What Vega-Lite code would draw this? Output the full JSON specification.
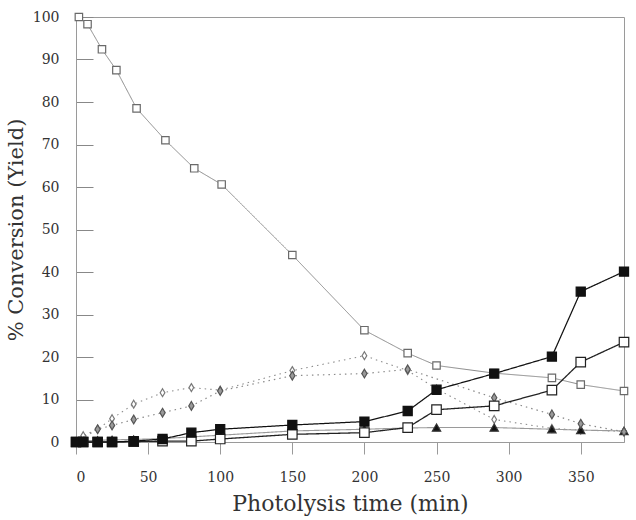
{
  "$schema": "https://vega.github.io/schema/vega-lite/v6.json",
  "width": 548,
  "height": 425,
  "padding": {"left": 5, "top": 10, "right": 5, "bottom": 2},
  "config": {
    "font": "DejaVu Serif",
    "view": {"stroke": "#9a9a9a"}
  },
  "data": {
    "values": [
      {"series": "9", "t": 2, "y": 100},
      {"series": "9", "t": 8, "y": 98.3},
      {"series": "9", "t": 18, "y": 92.4},
      {"series": "9", "t": 28, "y": 87.5},
      {"series": "9", "t": 42, "y": 78.5},
      {"series": "9", "t": 62, "y": 71.0},
      {"series": "9", "t": 82, "y": 64.4},
      {"series": "9", "t": 101, "y": 60.6},
      {"series": "9", "t": 150, "y": 44.0},
      {"series": "9", "t": 200, "y": 26.3},
      {"series": "9", "t": 230, "y": 20.9},
      {"series": "9", "t": 250, "y": 18.0},
      {"series": "9", "t": 290, "y": 16.2},
      {"series": "9", "t": 330, "y": 15.1},
      {"series": "9", "t": 350, "y": 13.5},
      {"series": "9", "t": 380, "y": 12.0},
      {"series": "10", "t": 0, "y": 0},
      {"series": "10", "t": 5, "y": 1.5},
      {"series": "10", "t": 15, "y": 3.0},
      {"series": "10", "t": 25, "y": 5.5},
      {"series": "10", "t": 40, "y": 8.9},
      {"series": "10", "t": 60, "y": 11.6},
      {"series": "10", "t": 80, "y": 12.8},
      {"series": "10", "t": 100, "y": 12.2},
      {"series": "10", "t": 150, "y": 16.8},
      {"series": "10", "t": 200, "y": 20.3},
      {"series": "10", "t": 230, "y": 16.8},
      {"series": "10", "t": 250, "y": 12.5},
      {"series": "10", "t": 290, "y": 5.3},
      {"series": "10", "t": 330, "y": 3.2},
      {"series": "10", "t": 350, "y": 2.8},
      {"series": "10", "t": 380, "y": 2.5},
      {"series": "11", "t": 0, "y": 0},
      {"series": "11", "t": 5, "y": 0.3},
      {"series": "11", "t": 15, "y": 0.4},
      {"series": "11", "t": 25, "y": 0.5},
      {"series": "11", "t": 40, "y": 0.6},
      {"series": "11", "t": 60, "y": 0.8},
      {"series": "11", "t": 80, "y": 1.2},
      {"series": "11", "t": 100, "y": 1.6},
      {"series": "11", "t": 150, "y": 2.6},
      {"series": "11", "t": 200, "y": 3.0},
      {"series": "11", "t": 230, "y": 3.3},
      {"series": "11", "t": 250, "y": 3.4},
      {"series": "11", "t": 290, "y": 3.4},
      {"series": "11", "t": 330, "y": 3.0},
      {"series": "11", "t": 350, "y": 2.8},
      {"series": "11", "t": 380, "y": 2.6},
      {"series": "12", "t": 0, "y": 0},
      {"series": "12", "t": 15, "y": 3.0},
      {"series": "12", "t": 25, "y": 3.9},
      {"series": "12", "t": 40, "y": 5.3},
      {"series": "12", "t": 60, "y": 6.9},
      {"series": "12", "t": 80, "y": 8.5},
      {"series": "12", "t": 100, "y": 12.0},
      {"series": "12", "t": 150, "y": 15.6},
      {"series": "12", "t": 200, "y": 16.1},
      {"series": "12", "t": 230, "y": 17.1},
      {"series": "12", "t": 290, "y": 10.4},
      {"series": "12", "t": 330, "y": 6.5},
      {"series": "12", "t": 350, "y": 4.3},
      {"series": "12", "t": 380, "y": 2.4},
      {"series": "13", "t": 0, "y": 0},
      {"series": "13", "t": 5, "y": 0},
      {"series": "13", "t": 15, "y": 0},
      {"series": "13", "t": 25, "y": 0},
      {"series": "13", "t": 40, "y": 0.1},
      {"series": "13", "t": 60, "y": 0.2},
      {"series": "13", "t": 80, "y": 0.2},
      {"series": "13", "t": 100, "y": 0.7},
      {"series": "13", "t": 150, "y": 1.8},
      {"series": "13", "t": 200, "y": 2.2},
      {"series": "13", "t": 230, "y": 3.4},
      {"series": "13", "t": 250, "y": 7.6},
      {"series": "13", "t": 290, "y": 8.5},
      {"series": "13", "t": 330, "y": 12.2},
      {"series": "13", "t": 350, "y": 18.8},
      {"series": "13", "t": 380, "y": 23.5},
      {"series": "14", "t": 0, "y": 0},
      {"series": "14", "t": 5, "y": 0},
      {"series": "14", "t": 15, "y": 0},
      {"series": "14", "t": 25, "y": 0},
      {"series": "14", "t": 40, "y": 0.2},
      {"series": "14", "t": 60, "y": 0.7},
      {"series": "14", "t": 80, "y": 2.2},
      {"series": "14", "t": 100, "y": 3.0},
      {"series": "14", "t": 150, "y": 4.0},
      {"series": "14", "t": 200, "y": 4.8},
      {"series": "14", "t": 230, "y": 7.3},
      {"series": "14", "t": 250, "y": 12.3},
      {"series": "14", "t": 290, "y": 16.1},
      {"series": "14", "t": 330, "y": 20.1},
      {"series": "14", "t": 350, "y": 35.4},
      {"series": "14", "t": 380, "y": 40.1}
    ]
  },
  "encoding": {
    "x": {
      "field": "t", "type": "quantitative",
      "scale": {"domain": [0, 380], "nice": false, "zero": false},
      "axis": {
        "grid": false,
        "values": [0, 50, 100, 150, 200, 250, 300, 350],
        "tickSize": 12,
        "tickColor": "#9a9a9a",
        "domainColor": "#9a9a9a",
        "labelPadding": 16,
        "labelFontSize": 14,
        "labelFont": "DejaVu Serif",
        "labelColor": "#333333",
        "title": "Photolysis time (min)",
        "titleFont": "DejaVu Serif",
        "titleFontSize": 22,
        "titleFontWeight": "normal",
        "titleColor": "#333333",
        "titlePadding": 9
      }
    },
    "y": {
      "field": "y", "type": "quantitative",
      "scale": {"domain": [0, 100]},
      "axis": {
        "grid": false,
        "tickCount": 10,
        "tickSize": -17,
        "tickColor": "#888888",
        "domainColor": "#9a9a9a",
        "labelPadding": 34,
        "labelFontSize": 14,
        "labelFont": "DejaVu Serif",
        "labelColor": "#333333",
        "title": "% Conversion (Yield)",
        "titleFont": "DejaVu Serif",
        "titleFontSize": 21,
        "titleFontWeight": "normal",
        "titleColor": "#333333",
        "titlePadding": 6
      }
    }
  },
  "layer": [
    {
      "mark": {"type": "line"},
      "encoding": {
        "color": {
          "field": "series", "type": "nominal",
          "scale": {"domain": ["9", "10", "11", "12", "14", "13"], "range": ["#8a8a8a", "#8a8a8a", "#9a9a9a", "#8a8a8a", "#111111", "#222222"]},
          "legend": null
        },
        "strokeDash": {
          "field": "series", "type": "nominal",
          "scale": {"domain": ["9", "10", "11", "12", "14", "13"], "range": [[1, 0], [1.5, 4], [1, 0], [1.5, 4], [1, 0], [1, 0]]},
          "legend": null
        },
        "strokeWidth": {
          "field": "series", "type": "nominal",
          "scale": {"domain": ["9", "10", "11", "12", "14", "13"], "range": [1, 1.3, 1, 1.3, 2.8, 2.4]},
          "legend": null
        }
      }
    },
    {
      "mark": {"type": "point", "filled": false, "strokeWidth": 1.2, "opacity": 1},
      "encoding": {
        "shape": {
          "field": "series", "type": "nominal",
          "scale": {"domain": ["9", "10", "11", "12", "14", "13"], "range": ["square", "M0,-1L0.6,0L0,1L-0.6,0Z", "triangle-up", "M0,-1L0.6,0L0,1L-0.6,0Z", "square", "square"]},
          "legend": {
            "orient": "top-right",
            "offset": 40,
            "title": null,
            "symbolSize": 90,
            "symbolStrokeWidth": 1.2,
            "symbolOpacity": 1,
            "rowPadding": 5,
            "labelFont": "DejaVu Serif",
            "labelFontSize": 15,
            "labelFontWeight": "bold",
            "labelColor": "#333333",
            "labelOffset": 10
          }
        },
        "fill": {
          "field": "series", "type": "nominal",
          "scale": {"domain": ["9", "10", "11", "12", "14", "13"], "range": ["#ffffff", "#ffffff", "#111111", "#9a9a9a", "#111111", "#ffffff"]}
        },
        "stroke": {
          "field": "series", "type": "nominal",
          "scale": {"domain": ["9", "10", "11", "12", "14", "13"], "range": ["#6a6a6a", "#7a7a7a", "#333333", "#555555", "#111111", "#222222"]}
        },
        "size": {
          "field": "series", "type": "nominal",
          "scale": {"domain": ["9", "10", "11", "12", "14", "13"], "range": [55, 90, 30, 90, 120, 135]},
          "legend": null
        }
      }
    }
  ]
}
